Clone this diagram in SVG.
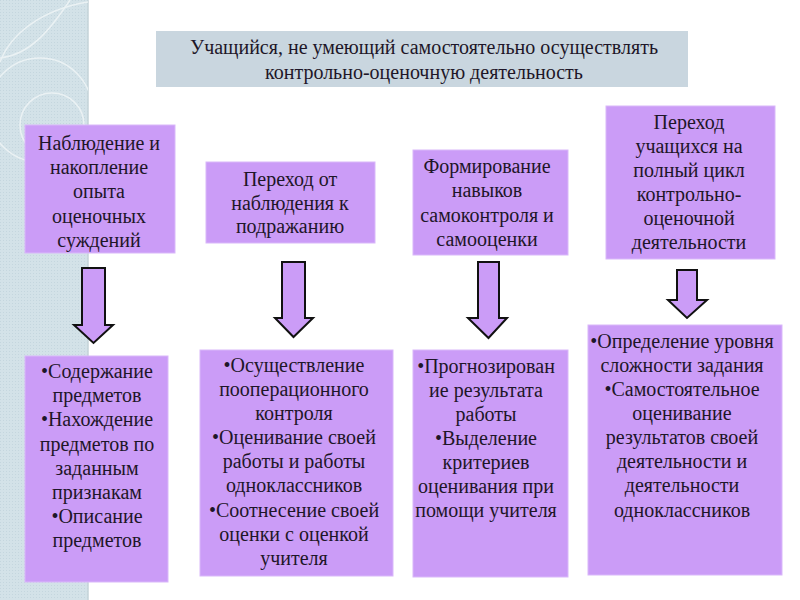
<svg xmlns="http://www.w3.org/2000/svg" width="800" height="600" viewBox="0 0 800 600">
<defs>
<style>
.box{fill:#cb9cf7;stroke:#d9b8fa;stroke-width:1}
.t{font-family:'Liberation Serif','Times New Roman',serif;font-size:20px;fill:#1e1628;text-anchor:middle}
.arr{fill:#cb9cf7;stroke:#111;stroke-width:2;stroke-linejoin:miter}
</style>
<pattern id="dots" width="3" height="3" patternUnits="userSpaceOnUse">
<rect width="3" height="3" fill="#d3e2e8"/>
<rect width="1" height="1" fill="#c4d6de"/>
</pattern>
<clipPath id="strip"><rect x="0" y="0" width="88" height="600"/></clipPath>
</defs>
<rect width="800" height="600" fill="#ffffff"/>
<g id="background">
<rect x="0" y="0" width="88" height="600" fill="url(#dots)"/>
<line x1="88" y1="0" x2="88" y2="600" stroke="#c5d3d9" stroke-width="1.5"/>
<g clip-path="url(#strip)" fill="none" stroke="#eef4f6" stroke-width="1.5" opacity="0.9">
<path d="M88,2 C40,10 10,35 0,62"/>
<path d="M70,0 C50,30 30,55 0,58"/>
<circle cx="52" cy="125" r="32"/>
<circle cx="40" cy="110" r="52"/>
</g>
</g>
<g font-family="Liberation Serif, Times New Roman, serif">
<g id="title">
<rect x="156" y="31" width="532" height="56" fill="#c9d6df"/>
<text class="t" x="424" y="54">Учащийся, не умеющий самостоятельно осуществлять</text>
<text class="t" x="424" y="79">контрольно-оценочную деятельность</text>
</g>
<g id="stage1">
<rect class="box" x="25" y="125" width="150" height="128"/>
<text class="t" x="99" y="150">Наблюдение и</text>
<text class="t" x="99" y="174">накопление</text>
<text class="t" x="99" y="198">опыта</text>
<text class="t" x="99" y="223">оценочных</text>
<text class="t" x="99" y="247">суждений</text>
</g>
<g id="stage2">
<rect class="box" x="206" y="162" width="169" height="81"/>
<text class="t" x="290" y="186">Переход от</text>
<text class="t" x="290" y="210">наблюдения к</text>
<text class="t" x="290" y="233">подражанию</text>
</g>
<g id="stage3">
<rect class="box" x="413" y="150" width="155" height="105"/>
<text class="t" x="487" y="173">Формирование</text>
<text class="t" x="487" y="197">навыков</text>
<text class="t" x="487" y="222">самоконтроля и</text>
<text class="t" x="487" y="246">самооценки</text>
</g>
<g id="stage4">
<rect class="box" x="606" y="106" width="169" height="153"/>
<text class="t" x="689" y="129">Переход</text>
<text class="t" x="689" y="153">учащихся на</text>
<text class="t" x="689" y="177">полный цикл</text>
<text class="t" x="689" y="201">контрольно-</text>
<text class="t" x="689" y="225">оценочной</text>
<text class="t" x="689" y="249">деятельности</text>
</g>
<g id="connectors">
<path class="arr" d="M82,268 H105 V325 H113 L93.5,343 L74,325 H82 Z"/>
<path class="arr" d="M282,262 H305 V318 H313 L293.5,337 L275,318 H282 Z"/>
<path class="arr" d="M478,262 H499 V318 H507 L488.5,338 L468,318 H478 Z"/>
<path class="arr" d="M677,270 H697 V300 H707 L687,318 L668,300 H677 Z"/>
</g>
<g id="detail1">
<rect class="box" x="25" y="356" width="143" height="226"/>
<text class="t" x="97" y="378">•Содержание</text>
<text class="t" x="97" y="402">предметов</text>
<text class="t" x="97" y="426">•Нахождение</text>
<text class="t" x="97" y="451">предметов по</text>
<text class="t" x="97" y="475">заданным</text>
<text class="t" x="97" y="499">признакам</text>
<text class="t" x="97" y="523">•Описание</text>
<text class="t" x="97" y="547">предметов</text>
</g>
<g id="detail2">
<rect class="box" x="200" y="350" width="193" height="226"/>
<text class="t" x="294" y="372">•Осуществление</text>
<text class="t" x="294" y="396">пооперационного</text>
<text class="t" x="294" y="420">контроля</text>
<text class="t" x="294" y="444">•Оценивание своей</text>
<text class="t" x="294" y="468">работы и работы</text>
<text class="t" x="294" y="492">одноклассников</text>
<text class="t" x="294" y="517">•Соотнесение своей</text>
<text class="t" x="294" y="541">оценки с оценкой</text>
<text class="t" x="294" y="565">учителя</text>
</g>
<g id="detail3">
<rect class="box" x="413" y="350" width="155" height="227"/>
<text class="t" x="486" y="373">•Прогнозирован</text>
<text class="t" x="486" y="397">ие результата</text>
<text class="t" x="486" y="421">работы</text>
<text class="t" x="486" y="445">•Выделение</text>
<text class="t" x="486" y="469">критериев</text>
<text class="t" x="486" y="493">оценивания при</text>
<text class="t" x="486" y="517">помощи учителя</text>
</g>
<g id="detail4">
<rect class="box" x="588" y="325" width="194" height="250"/>
<text class="t" x="682" y="348">•Определение уровня</text>
<text class="t" x="682" y="372">сложности задания</text>
<text class="t" x="682" y="396">•Самостоятельное</text>
<text class="t" x="682" y="420">оценивание</text>
<text class="t" x="682" y="444">результатов своей</text>
<text class="t" x="682" y="468">деятельности и</text>
<text class="t" x="682" y="492">деятельности</text>
<text class="t" x="682" y="517">одноклассников</text>
</g>
</g>
</svg>
